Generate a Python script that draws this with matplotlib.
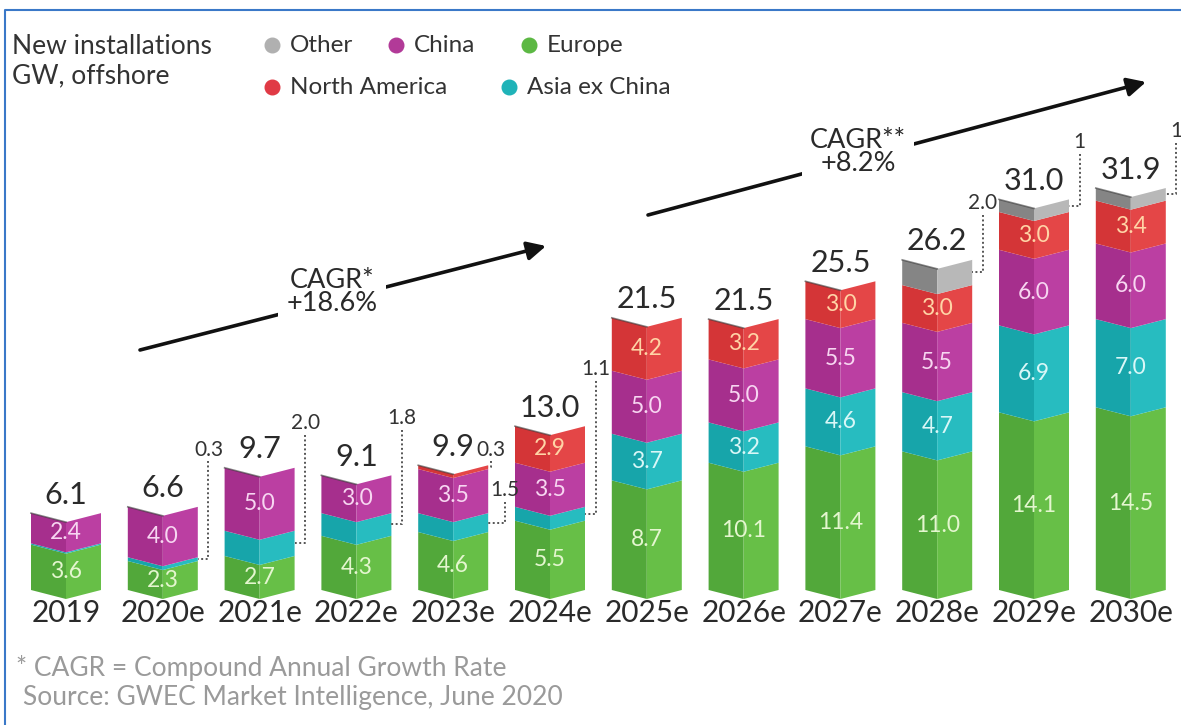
import matplotlib
matplotlib.use("Agg")
import matplotlib.pyplot as plt
from matplotlib.patches import Polygon
from matplotlib.lines import Line2D

plt.rcParams['font.family'] = ['Lato', 'DejaVu Sans']

# data (GW, offshore)
years = ['2019', '2020e', '2021e', '2022e', '2023e', '2024e',
         '2025e', '2026e', '2027e', '2028e', '2029e', '2030e']
europe = [3.6, 2.3, 2.7, 4.3, 4.6, 5.5, 8.7, 10.1, 11.4, 11.0, 14.1, 14.5]
asia = [0.1, 0.3, 2.0, 1.8, 1.5, 1.1, 3.7, 3.2, 4.6, 4.7, 6.9, 7.0]
china = [2.4, 4.0, 5.0, 3.0, 3.5, 3.5, 5.0, 5.0, 5.5, 5.5, 6.0, 6.0]
north_america = [0, 0, 0, 0, 0.3, 2.9, 4.2, 3.2, 3.0, 3.0, 3.0, 3.4]
other = [0, 0, 0, 0, 0, 0, 0, 0, 0, 2.0, 1.0, 1.0]
totals = ['6.1', '6.6', '9.7', '9.1', '9.9', '13.0',
          '21.5', '21.5', '25.5', '26.2', '31.0', '31.9']
# small values shown outside the bar with a dotted leader
callouts = [(1, 'Asia', '0.3'), (2, 'Asia', '2.0'), (3, 'Asia', '1.8'),
            (4, 'NA', '0.3'), (4, 'Asia', '1.5'), (5, 'Asia', '1.1'),
            (9, 'Other', '2.0'), (10, 'Other', '1'), (11, 'Other', '1')]

layers = [('Europe', europe, '#52a83a', '#67bf47', '#e4f6cf'),
          ('Asia', asia, '#17a5aa', '#27bcc0', '#d9f7f7'),
          ('China', china, '#a62f8d', '#bb3fa2', '#f7d6f1'),
          ('NA', north_america, '#d43537', '#e44647', '#ffd4a6'),
          ('Other', other, '#858585', '#b8b8b8', '#ffffff')]

W, H = 1181, 725
fig = plt.figure(figsize=(W / 100, H / 100), dpi=100)
ax = fig.add_axes([0, 0, 1, 1])

# pixel layout: bar 0 at x=66, step 96.8 px, base at y=590, 12.6 px per GW
step, x0, base, ppu = 96.8, 66, 590, 12.6
ax.set_xlim(-x0 / step, (W - x0) / step)
ax.set_ylim((base - H) / ppu, base / ppu)
ax.axis('off')


def fx(px):
    return px / W


def fy(py):
    return 1 - py / H


bw = 70 / step
dep = 9 / ppu   # depth of the V fold
seg_pos = {}

for i in range(len(years)):
    bottom = 0
    for name, vals, cl, cr, tc in layers:
        v = vals[i]
        if v <= 0:
            continue
        top = bottom + v
        l, r = i - bw / 2, i + bw / 2
        ax.add_patch(Polygon([(l, bottom), (i, bottom - dep), (i, top - dep), (l, top)],
                             closed=True, facecolor=cl, edgecolor='none'))
        ax.add_patch(Polygon([(i, bottom - dep), (r, bottom), (r, top), (i, top - dep)],
                             closed=True, facecolor=cr, edgecolor='none'))
        seg_pos[(i, name)] = (bottom, top)
        bottom = top
    # dark rim on the top fold
    ax.plot([i - bw / 2, i], [bottom, bottom - dep], color='#3a3a3a', lw=1.2, alpha=0.6)
    ax.text(i, bottom + 0.35, totals[i], ha='center', va='bottom',
            fontsize=22, color='#2a2a2a')
    ax.text(i, -0.75, years[i], ha='center', va='top', fontsize=21.5, color='#2a2a2a')

called = {(i, n) for i, n, _ in callouts}
for i in range(len(years)):
    for name, vals, cl, cr, tc in layers:
        v = vals[i]
        if v >= 2 and (i, name) not in called:
            b, t = seg_pos[(i, name)]
            ax.text(i, (b + t) / 2 - dep * 0.5, f'{v:.1f}', ha='center', va='center',
                    fontsize=16.5, color=tc)

# dotted leaders
for i, name, txt in callouts:
    b, t = seg_pos[(i, name)]
    total = float(totals[i])
    gap, lift = 0.11, 3.6
    if (i, name) == (4, 'NA'):
        gap, lift = 0.03, 0.3
    elif (i, name) == (4, 'Asia'):
        gap, lift = 0.17, -2.9
    elif i == 2:
        lift = 2.6
    lx = i + bw / 2 + gap
    ly = (b + t) / 2
    ytop = total + lift
    ax.plot([lx, lx, i + bw / 2], [ytop, ly, ly], color='#555555', lw=1.4,
            linestyle=(0, (1, 1.3)))
    ax.text(lx, ytop + 0.15, txt, ha='center', va='bottom', fontsize=15, color='#333333')

# CAGR arrows
for (xa, ya), (xb, yb), (tx, ty), lab in [((140, 350), (546, 246), (332, 292), 'CAGR*\n+18.6%'),
                                         ((648, 215), (1146, 82), (858, 152), 'CAGR**\n+8.2%')]:
    ax.annotate('', xy=(fx(xb), fy(yb)), xytext=(fx(xa), fy(ya)),
                xycoords='figure fraction', textcoords='figure fraction',
                arrowprops=dict(arrowstyle='-|>', lw=2.6, color='#111111',
                                mutation_scale=28, shrinkA=0, shrinkB=0))
    fig.text(fx(tx), fy(ty), lab, ha='center', va='center', fontsize=19.5, color='#2a2a2a',
             linespacing=0.9,
             bbox=dict(boxstyle='square,pad=0.3', facecolor='white', edgecolor='none'))

# title and legend
fig.text(fx(12), fy(46), 'New installations', ha='left', va='center', fontsize=19, color='#333333')
fig.text(fx(12), fy(76), 'GW, offshore', ha='left', va='center', fontsize=19, color='#333333')
legend_items = [('Other', '#b0b0b0', 272, 45), ('China', '#b23a98', 396, 45),
                ('Europe', '#5cb843', 529, 45), ('North America', '#e03a45', 272, 87),
                ('Asia ex China', '#1fb3b8', 509, 87)]
for lab, col, lx, ly in legend_items:
    fig.add_artist(Line2D([fx(lx)], [fy(ly)], marker='o', markersize=10.5,
                          color=col, transform=fig.transFigure))
    fig.text(fx(lx + 18), fy(ly), lab, ha='left', va='center', fontsize=17.5, color='#333333')

# footnote
fig.text(fx(16), fy(668), '* CAGR = Compound Annual Growth Rate', ha='left', va='center',
         fontsize=19, color='#9a9a9a')
fig.text(fx(23), fy(698), 'Source: GWEC Market Intelligence, June 2020', ha='left', va='center',
         fontsize=19, color='#9a9a9a')

# blue frame (top and left edges)
fig.add_artist(Line2D([fx(5), fx(5), 1], [0, fy(10), fy(10)], color='#3a78c8', lw=1.5,
                      transform=fig.transFigure))

fig.savefig('out.png', dpi=100, facecolor='white')
